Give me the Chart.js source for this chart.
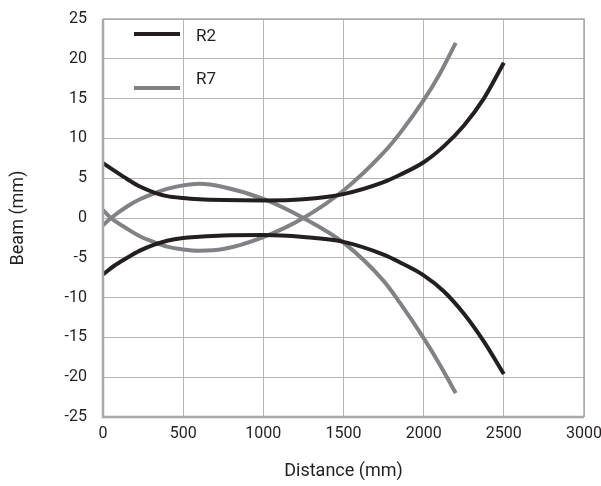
<!DOCTYPE html>
<html>
<head>
<meta charset="utf-8">
<script src="https://cdn.jsdelivr.net/npm/chart.js@4/dist/chart.umd.min.js"></script>
<style>
  html, body { margin: 0; padding: 0; background: #fff; }
  #wrap { width: 601px; height: 486px; }
</style>
</head>
<body>
<div id="wrap"><canvas id="beamChart"></canvas></div>
<script>
// Values
const r2Distance = [0, 70, 150, 230, 320, 400, 500, 600, 750, 1000, 1250, 1500, 1750, 1850, 2000, 2125, 2250, 2375, 2500];
const r2Upper = [6.9, 5.95, 4.9, 3.95, 3.2, 2.75, 2.5, 2.35, 2.25, 2.2, 2.35, 3.0, 4.5, 5.4, 7.0, 9.0, 11.6, 15.0, 19.5];
const r2Lower = [-7.1, -6.0, -5.0, -4.1, -3.35, -2.85, -2.5, -2.35, -2.2, -2.15, -2.4, -3.0, -4.6, -5.55, -7.2, -9.2, -12.0, -15.5, -19.6];

const r7Distance = [0, 50, 150, 230, 320, 400, 500, 600, 750, 1000, 1250, 1500, 1750, 1850, 2000, 2100, 2200];
const r7Rising = [1.0, 0, -1.35, -2.3, -3.05, -3.6, -3.95, -4.1, -3.9, -2.4, 0, 3.45, 8.2, 10.6, 14.8, 18.1, 22.0];
const r7Falling = [-0.9, 0, 1.45, 2.35, 3.1, 3.65, 4.1, 4.3, 3.9, 2.4, 0, -3.1, -7.9, -10.6, -15.1, -18.4, -22.0];

const yTicks = [25, 20, 15, 10, 5, 0, -5, -10, -15, -20, -25];
const xTicks = [0, 500, 1000, 1500, 2000, 2500, 3000];

const black = '#231f20';
const gray = '#808285';
const font = "'Roboto', sans-serif";

function toPoints(xs, ys) {
    return xs.map((x, i) => ({ x: x, y: ys[i] }));
}

function lineSet(label, xs, ys, color) {
    return {
        label: label,
        data: toPoints(xs, ys),
        borderColor: color,
        backgroundColor: color,
        borderWidth: 4,
        pointRadius: 0,
        showLine: true,
        cubicInterpolationMode: 'monotone',
        borderCapStyle: 'butt'
    };
}

// Legend drawn inside the plot, top left
const innerLegend = {
    id: 'innerLegend',
    afterDraw(chart) {
        const ctx = chart.ctx;
        const items = [
            { text: 'R2', color: black, lineY: 34, textY: 37 },
            { text: 'R7', color: gray, lineY: 88, textY: 80 }
        ];
        ctx.save();
        items.forEach(it => {
            ctx.strokeStyle = it.color;
            ctx.lineWidth = 4;
            ctx.beginPath();
            ctx.moveTo(134, it.lineY);
            ctx.lineTo(180, it.lineY);
            ctx.stroke();
            ctx.fillStyle = '#231f20';
            ctx.font = '17px ' + font;
            ctx.textBaseline = 'middle';
            ctx.fillText(it.text, 196, it.textY);
        });
        ctx.restore();
    }
};

// Plot border: thin top/right, heavier left/bottom
const plotBorder = {
    id: 'plotBorder',
    afterDatasetsDraw(chart) {
        const a = chart.chartArea;
        const ctx = chart.ctx;
        ctx.save();
        ctx.strokeStyle = '#a7a9ac';
        ctx.lineWidth = 1.5;
        ctx.beginPath();
        ctx.moveTo(a.left, a.top);
        ctx.lineTo(a.right, a.top);
        ctx.lineTo(a.right, a.bottom);
        ctx.stroke();
        ctx.lineWidth = 2.5;
        ctx.beginPath();
        ctx.moveTo(a.left, a.top);
        ctx.lineTo(a.left, a.bottom);
        ctx.lineTo(a.right, a.bottom);
        ctx.stroke();
        ctx.restore();
    }
};

new Chart(document.getElementById('beamChart'), {
    type: 'scatter',
    data: {
        datasets: [
            lineSet('R2', r2Distance, r2Upper, black),
            lineSet('R2', r2Distance, r2Lower, black),
            lineSet('R7', r7Distance, r7Rising, gray),
            lineSet('R7', r7Distance, r7Falling, gray)
        ]
    },
    options: {
        responsive: true,
        maintainAspectRatio: false,
        animation: false,
        layout: { padding: { top: 19, right: 17, bottom: 0, left: 4 } },
        plugins: {
            legend: { display: false },
            tooltip: { enabled: false }
        },
        scales: {
            x: {
                type: 'linear',
                min: 0,
                max: 3000,
                afterBuildTicks: axis => { axis.ticks = xTicks.map(v => ({ value: v })); },
                afterFit: axis => {
                    axis.height = 69;
                    axis.paddingLeft = 0;
                    axis.paddingRight = 0;
                },
                grid: { color: '#b5b5b5', lineWidth: 1, drawTicks: false },
                border: { display: false },
                ticks: {
                    color: '#231f20',
                    padding: 7,
                    maxRotation: 0,
                    callback: v => String(v),
                    font: { family: font, size: 16 }
                },
                title: {
                    display: true,
                    text: 'Distance (mm)',
                    color: '#231f20',
                    padding: { top: 12 },
                    font: { family: font, size: 18 }
                }
            },
            y: {
                min: -25,
                max: 25,
                afterBuildTicks: axis => { axis.ticks = yTicks.map(v => ({ value: v })); },
                afterFit: axis => {
                    axis.width = 99;
                    axis.paddingTop = 0;
                    axis.paddingBottom = 0;
                },
                grid: { color: '#b5b5b5', lineWidth: 1, drawTicks: false },
                border: { display: false },
                ticks: {
                    color: '#231f20',
                    padding: 16,
                    callback: v => String(v),
                    font: { family: font, size: 16 }
                },
                title: {
                    display: true,
                    text: 'Beam (mm)',
                    color: '#231f20',
                    padding: { bottom: 20 },
                    font: { family: font, size: 18 }
                }
            }
        }
    },
    plugins: [innerLegend, plotBorder]
});
</script>
</body>
</html>
